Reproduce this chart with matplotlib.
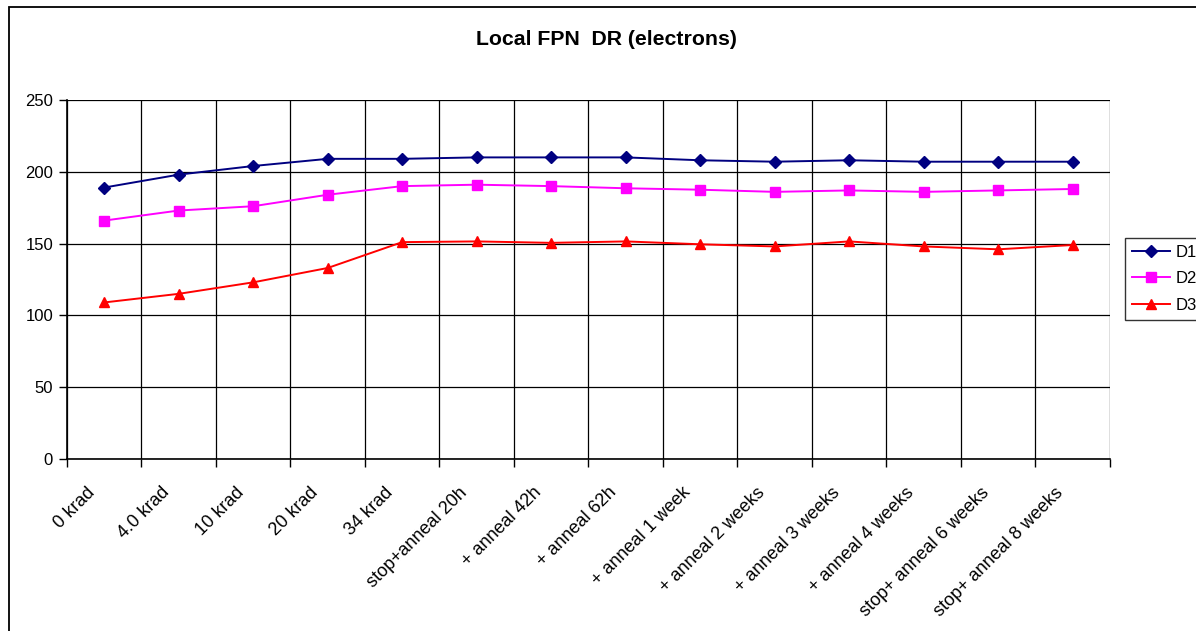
import numpy as np
import matplotlib.pyplot as plt
from matplotlib.patches import Rectangle
from matplotlib.transforms import ScaledTranslation

plt.rcParams['font.family'] = ['Liberation Sans', 'DejaVu Sans']

# Dose / annealing steps
steps = ['0 krad', '4.0 krad', '10 krad', '20 krad', '34 krad',
         'stop+anneal 20h', '+ anneal 42h', '+ anneal 62h', '+ anneal 1 week',
         '+ anneal 2 weeks', '+ anneal 3 weeks', '+ anneal 4 weeks',
         'stop+ anneal 6 weeks', 'stop+ anneal 8 weeks']

# Local FPN dynamic range (electrons) per device
d1 = [189, 198, 204, 209, 209, 210, 210, 210, 208, 207, 208, 207, 207, 207]
d2 = [166, 173, 176, 184, 190, 191, 190, 188.5, 187.5, 186, 187, 186, 187, 188]
d3 = [109, 115, 123, 133, 151, 151.5, 150.5, 151.5, 149.5, 148, 151.5, 148, 146, 149]

fig = plt.figure(figsize=(11.96, 6.31), dpi=100)
ax = fig.add_axes([0.056, 0.2726, 0.872, 0.569])

x = np.arange(len(steps))
ax.plot(x, d1, color='#000080', marker='D', markersize=6.5, lw=1.4, label='D1')
ax.plot(x, d2, color='#FF00FF', marker='s', markersize=6.5, lw=1.4, label='D2')
ax.plot(x, d3, color='#FF0000', marker='^', markersize=7.5, lw=1.4, label='D3')

ax.set_xlim(-0.5, len(steps) - 0.5)
ax.set_ylim(0, 250)
ax.set_yticks(range(0, 251, 50))
ax.tick_params(axis='y', labelsize=12, direction='out', length=6, width=1, pad=4)

# category labels at centres, ticks and grid at boundaries
ax.set_xticks(x)
ax.set_xticklabels(steps, rotation=45, ha='right', rotation_mode='anchor', fontsize=13)
ax.tick_params(axis='x', which='major', length=0, pad=18)
shift = ScaledTranslation(-0.18, 0, fig.dpi_scale_trans)
for lbl in ax.get_xticklabels():
    lbl.set_transform(lbl.get_transform() + shift)
ax.set_xticks(np.arange(-0.5, len(steps)), minor=True)
ax.tick_params(axis='x', which='minor', direction='out', length=6, width=1)
ax.grid(True, axis='x', which='minor', color='black', lw=0.9)
ax.grid(True, axis='y', which='major', color='black', lw=0.9)
ax.set_axisbelow(True)
for side in ['top', 'right']:
    ax.spines[side].set_visible(False)
for side in ['left', 'bottom']:
    ax.spines[side].set_linewidth(1.2)

fig.text(0.507, 0.937, 'Local FPN  DR (electrons)', ha='center', va='center',
         fontsize=15.3, fontweight='bold')

leg = fig.legend(loc='upper left', bbox_to_anchor=(0.9406, 0.623), fontsize=12,
                 frameon=True, fancybox=False, edgecolor='black',
                 handlelength=2.3, handletextpad=0.3, borderpad=0.42,
                 labelspacing=0.68, borderaxespad=0)
leg.get_frame().set_linewidth(1)

# outer chart border
fig.patches.append(Rectangle((0.0075, -0.1), 1.2, 1.089, transform=fig.transFigure,
                             fill=False, edgecolor='black', lw=1.3))

fig.savefig('out.png', dpi=100)
